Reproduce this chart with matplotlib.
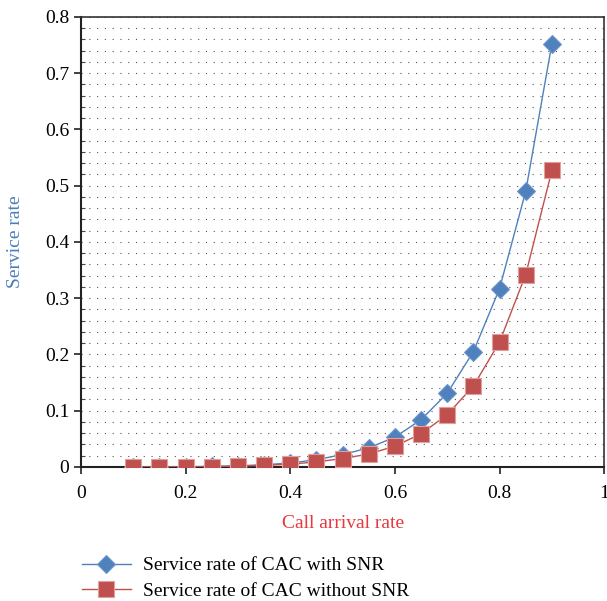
import matplotlib
matplotlib.use("Agg")
import matplotlib.pyplot as plt
import numpy as np

x = [0.10, 0.15, 0.20, 0.25, 0.30, 0.35, 0.40, 0.45, 0.50, 0.55, 0.60, 0.65, 0.70, 0.75, 0.80, 0.85, 0.90]
with_snr = [0.0, 0.0002, 0.0005, 0.001, 0.002, 0.004, 0.007, 0.013, 0.022, 0.034, 0.053, 0.084, 0.131, 0.205, 0.317, 0.490, 0.752]
without_snr = [0.0, 0.0001, 0.0003, 0.0007, 0.0015, 0.003, 0.005, 0.009, 0.015, 0.023, 0.037, 0.059, 0.093, 0.144, 0.222, 0.342, 0.527]
xticks = [0, 0.2, 0.4, 0.6, 0.8, 1]
xtick_labels = ["0", "0.2", "0.4", "0.6", "0.8", "1"]
yticks = [0, 0.1, 0.2, 0.3, 0.4, 0.5, 0.6, 0.7, 0.8]
ytick_labels = ["0", "0.1", "0.2", "0.3", "0.4", "0.5", "0.6", "0.7", "0.8"]

plt.rcParams['font.family'] = ['Liberation Serif', 'DejaVu Serif']

fig = plt.figure(figsize=(6.07, 6.01), dpi=100)
ax = fig.add_axes([0.1334, 0.223, 0.862, 0.749])

blue = '#4f81bd'
red = '#c0504d'

# dotted background grid
ax.set_yticks(np.arange(0, 0.81, 0.02), minor=True)
ax.grid(which='minor', axis='y', linestyle=(0, (1, 6)), color='#555555', linewidth=0.8)
ax.grid(which='major', axis='y', linestyle=(0, (1, 6)), color='#555555', linewidth=0.8)
ax.set_axisbelow(True)

ax.plot(x, with_snr, color=blue, lw=1.0, marker='D', markersize=9,
        markerfacecolor=blue, markeredgecolor='#6d96cc', markeredgewidth=0.8,
        label='Service rate of CAC with SNR', zorder=3)
ax.plot(x, without_snr, color=red, lw=1.0, marker='s', markersize=11,
        markerfacecolor=red, markeredgecolor='#e0a0a0', markeredgewidth=0.8,
        label='Service rate of CAC without SNR', zorder=4)

ax.set_xlim(0, 1)
ax.set_ylim(0, 0.8)
ax.set_xticks(xticks)
ax.set_xticklabels(xtick_labels)
ax.set_yticks(yticks)
ax.set_yticklabels(ytick_labels)
ax.tick_params(axis='both', which='major', labelsize=14, direction='out', length=5, width=1.2, color='#222222')
ax.tick_params(axis='y', which='minor', direction='in', length=3, width=0.8, color='#444444')
ax.tick_params(axis='x', pad=8)

for s in ['left', 'bottom']:
    ax.spines[s].set_linewidth(1.5)
    ax.spines[s].set_color('#222222')
for s in ['top', 'right']:
    ax.spines[s].set_linewidth(1.2)
    ax.spines[s].set_color('#333333')

ax.set_xlabel('Call arrival rate', color='#e8383d', fontsize=14, labelpad=9)
ax.set_ylabel('Service rate', color='#4a7ebb', fontsize=14, labelpad=15)

fig.legend(loc='lower left', bbox_to_anchor=(0.135, 0.002), frameon=False,
           fontsize=14, handlelength=2.5, handletextpad=0.65, labelspacing=0.4,
           borderpad=0, borderaxespad=0)

fig.savefig('out.png', dpi=100)
